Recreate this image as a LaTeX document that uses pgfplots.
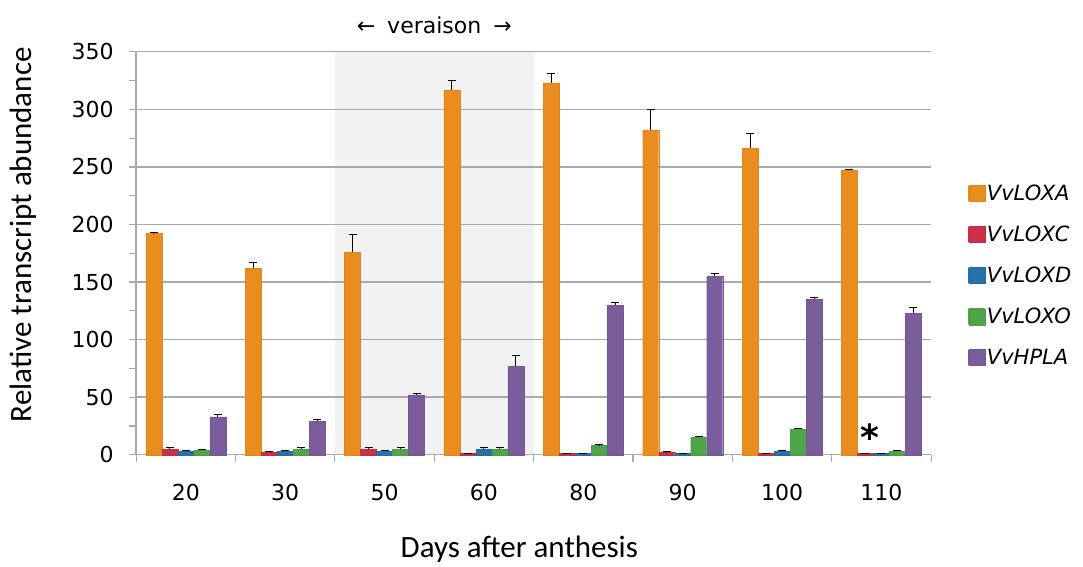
\documentclass[border=0pt]{standalone}
\usepackage{fontspec}
\setmainfont{DejaVu Sans}
\newfontfamily\calfont{Carlito}
\usepackage{pgfplots}
\usepackage{pgfplotstable}
\pgfplotsset{compat=1.18}

\definecolor{cA}{RGB}{252,152,36}
\definecolor{cC}{RGB}{218,52,76}
\definecolor{cD}{RGB}{40,122,182}
\definecolor{cO}{RGB}{86,176,78}
\definecolor{cH}{RGB}{132,100,168}
\definecolor{axgray}{RGB}{170,170,170}

% day index, mean and (upper) error for each gene
\pgfplotstableread{
day A   Ae C  Ce  D  De  O  Oe  H   He
0   192 1  5  1   3  1   4  1   33  2
1   162 5  2  1   3  1   5  1   29  2
2   176 15 5  1   3  1   5  1   52  1
3   317 8  1  0.5 5  1   5  1   77  9
4   323 8  1  0.5 1  0.5 8 1   130 2
5   282 18 2  0.5 1  0.5 15 1  155 2
6   266 13 1  0.5 3  1   22 1  135 2
7   247 1  1  0.5 1  0.5 3  1   123 5
}\loxdata

\pgfplotsset{
  eb/.style={error bars/.cd, y dir=plus, y explicit,
    error bar style={black, line width=1pt},
    error mark options={rotate=90, black, mark size=4pt, line width=1pt}},
  gbar/.style={left color=#1!93!black, middle color=#1, right color=#1!93!black,
    draw=#1!88!black, line width=0.4pt},
}

\begin{document}
\begin{tikzpicture}[x=1pt,y=1pt]
\path (0,0) rectangle (1083,563);
\begin{axis}[
  at={(137,94)}, anchor=south west,
  scale only axis, width=795pt, height=403pt,
  set layers, clip=false,
  ybar=0pt, bar width=16pt,
  xmin=-0.5, xmax=7.5, ymin=0, ymax=350,
  xtick={0,...,7}, xticklabels={20,30,50,60,80,90,100,110},
  minor xtick={-0.5,0.5,...,7.5},
  major x tick style={draw=none},
  ytick={0,50,...,350}, minor ytick={25,75,...,325},
  tick align=outside, major tick length=7pt, minor tick length=7pt,
  tick style={axgray, line width=1.2pt},
  axis x line*=bottom, axis y line*=left,
  axis line style={-, draw=axgray, line width=1.4pt},
  ymajorgrids, major grid style={axgray, line width=1.4pt},
  /pgf/number format/assume math mode=true,
  tick label style={font=\fontsize{22}{26}\selectfont},
  xticklabel style={yshift=-19pt},
  yticklabel style={xshift=-12pt},
  xlabel={\calfont\fontsize{31}{36}\selectfont Days after anthesis},
  xlabel style={at={(axis description cs:0.482,-0.235)}, anchor=center},
  ylabel={\calfont\fontsize{31}{36}\selectfont Relative transcript abundance},
  ylabel style={at={(axis description cs:-0.142,0.546)}, anchor=center},
  legend style={at={(axis description cs:1.043,0.68)}, anchor=north west,
    draw=none, fill=none, font=\fontsize{21}{25}\selectfont\itshape,
    row sep=20pt, /tikz/every even column/.append style={column sep=6pt}},
  legend cell align=left,
  legend image code/.code={\path[#1] (0pt,-8pt) rectangle (16pt,8pt);},
]
\begin{pgfonlayer}{axis background}
\fill[black!5] (axis cs:1.5,0) rectangle (axis cs:3.5,350);
\end{pgfonlayer}

\addplot[gbar=cA, eb] table[x=day, y=A, y error=Ae] {\loxdata};
\addlegendentry{VvLOXA}
\addplot[gbar=cC, eb] table[x=day, y=C, y error=Ce] {\loxdata};
\addlegendentry{VvLOXC}
\addplot[gbar=cD, eb] table[x=day, y=D, y error=De] {\loxdata};
\addlegendentry{VvLOXD}
\addplot[gbar=cO, eb] table[x=day, y=O, y error=Oe] {\loxdata};
\addlegendentry{VvLOXO}
\addplot[gbar=cH, eb] table[x=day, y=H, y error=He] {\loxdata};
\addlegendentry{VvHPLA}

\node[font=\fontsize{36}{40}\selectfont\bfseries, yshift=-7pt] at (axis cs:6.88,21) {*};
\node[font=\fontsize{22}{26}\selectfont] at (axis description cs:0.375,1.066)
  {←\hspace{12pt}veraison\hspace{12pt}→};
\end{axis}
\end{tikzpicture}
\end{document}
